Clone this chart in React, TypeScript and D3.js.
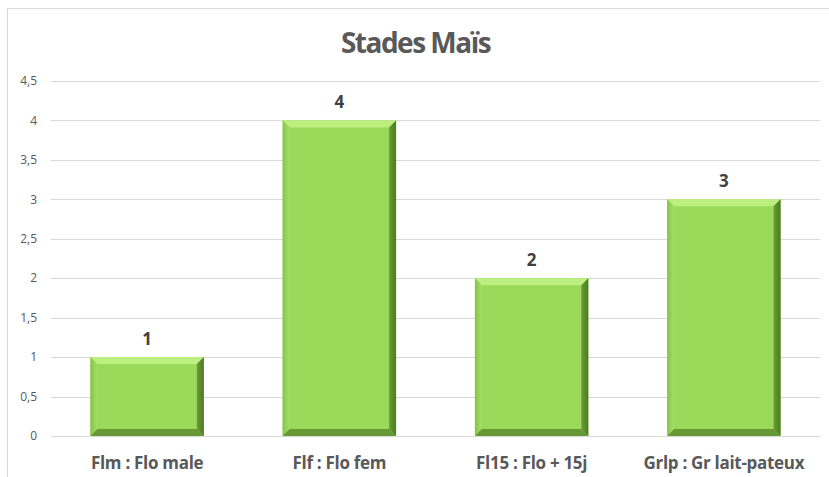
import React from "react";
import * as d3 from "d3";

const categories = ["Flm : Flo male", "Flf : Flo fem", "Fl15 : Flo + 15j", "Grlp : Gr lait-pateux"];
const values = [1, 4, 2, 3];
const yTicks = [0, 0.5, 1, 1.5, 2, 2.5, 3, 3.5, 4, 4.5];
const title = "Stades Maïs";

const width = 829;
const height = 477;
const margin = { top: 81, right: 9, bottom: 41, left: 51 };
const bevel = 7;

const App = () => {
    const x = d3.scaleBand()
        .domain(categories)
        .range([margin.left, width - margin.right])
        .paddingInner(0.41)
        .paddingOuter(0.205);

    const y = d3.scaleLinear()
        .domain([0, 4.5])
        .range([height - margin.bottom, margin.top]);

    const fmt = (v: number) => String(v).replace(".", ",");

    return (
        <svg width={width} height={height} style={{ position: "absolute", left: 0, top: 0, fontFamily: "'Open Sans', sans-serif" }}>
            <defs>
                <linearGradient id="rightBevel" x1="0" x2="1" y1="0" y2="0">
                    <stop offset="0" stopColor="#6b9c38" />
                    <stop offset="1" stopColor="#4d7a24" />
                </linearGradient>
                <linearGradient id="leftBevel" x1="0" x2="1" y1="0" y2="0">
                    <stop offset="0" stopColor="#86c449" />
                    <stop offset="1" stopColor="#a4e066" />
                </linearGradient>
            </defs>
            <rect x={0} y={0} width={width} height={height} fill="#ffffff" />
            <rect x={7.5} y={8.5} width={width} height={height} fill="none" stroke="#d9d9d9" strokeWidth={1} />
            <text x={width / 2 + 1} y={53} textAnchor="middle" fontSize={28} fontWeight="bold" fill="#595959" letterSpacing={-1.5}>{title}</text>
            {yTicks.map(t => (
                <g key={t}>
                    <line x1={margin.left} x2={width - margin.right} y1={Math.round(y(t)) + 0.5} y2={Math.round(y(t)) + 0.5} stroke="#d9d9d9" strokeWidth={1} />
                    <text x={37} y={y(t)} dy="0.35em" textAnchor="end" fontSize={12} fill="#595959">{fmt(t)}</text>
                </g>
            ))}
            {categories.map((c, i) => {
                const x0 = x(c) as number;
                const x1 = x0 + x.bandwidth();
                const y0 = y(values[i]);
                const y1 = y(0);
                const b = bevel;
                return (
                    <g key={c}>
                        <rect x={x0} y={y0} width={x1 - x0} height={y1 - y0} fill="#9bd95a" />
                        <polygon points={`${x0},${y0} ${x1},${y0} ${x1 - b},${y0 + b} ${x0 + b},${y0 + b}`} fill="#bdef80" />
                        <polygon points={`${x0},${y0} ${x0 + b},${y0 + b} ${x0 + b},${y1 - b} ${x0},${y1}`} fill="url(#leftBevel)" />
                        <polygon points={`${x1},${y0} ${x1},${y1} ${x1 - b},${y1 - b} ${x1 - b},${y0 + b}`} fill="url(#rightBevel)" />
                        <polygon points={`${x0},${y1} ${x0 + b},${y1 - b} ${x1 - b},${y1 - b} ${x1},${y1}`} fill="#669936" />
                        <text x={(x0 + x1) / 2} y={y0 - 12} textAnchor="middle" fontSize={17} fontWeight="bold" fill="#404040">{values[i]}</text>
                        <text x={(x0 + x1) / 2} y={y1 + 27} dy="0.35em" textAnchor="middle" fontSize={17} fontWeight="bold" fill="#595959" letterSpacing={-0.3}>{c}</text>
                    </g>
                );
            })}
        </svg>
    );
};

export default App;
